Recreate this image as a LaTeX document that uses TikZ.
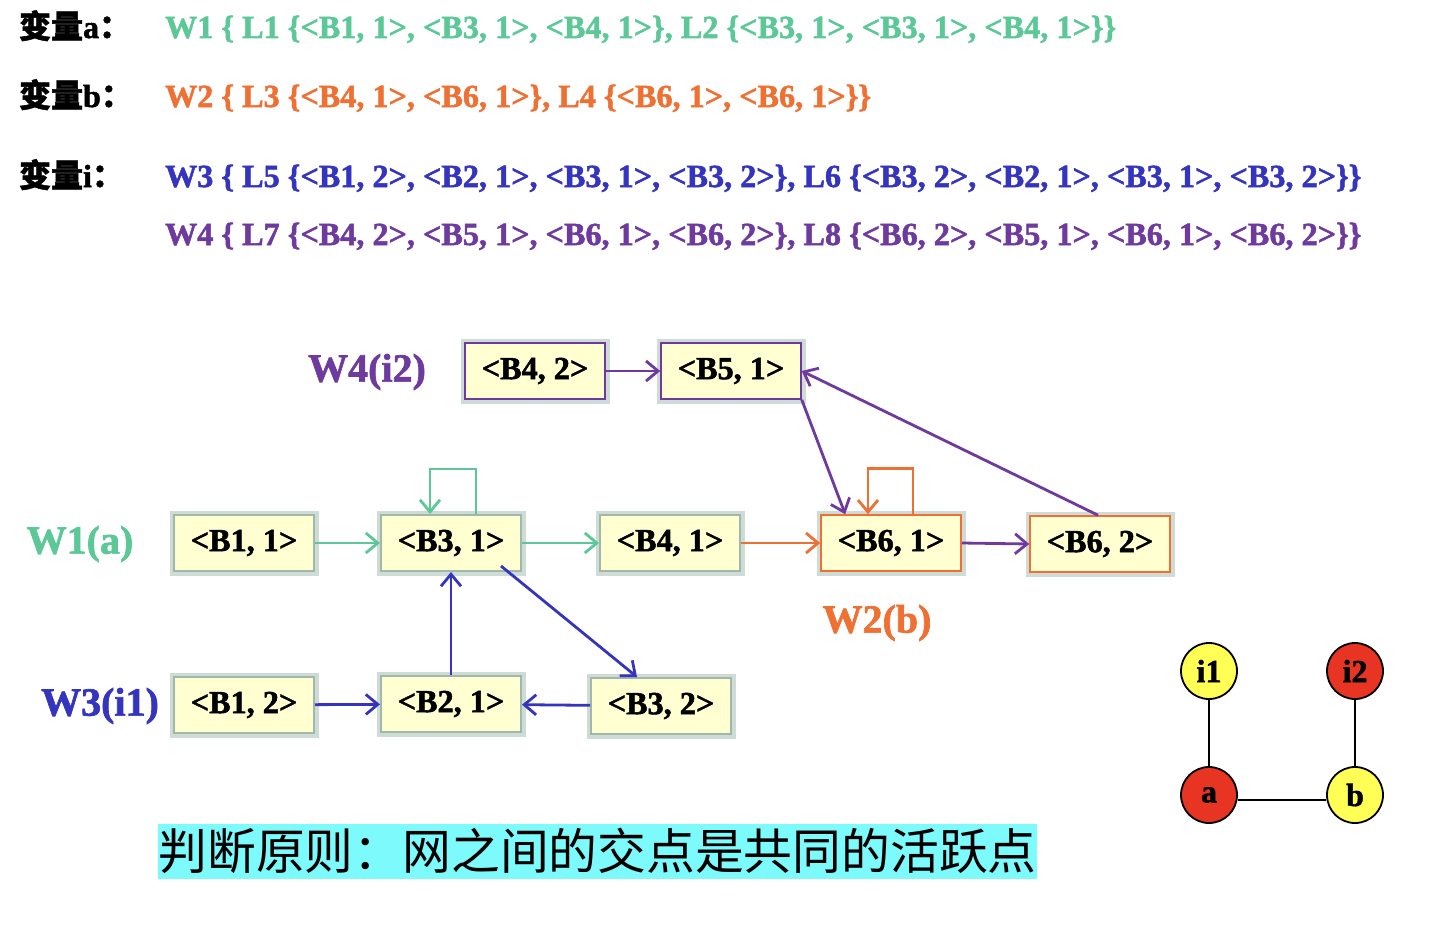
\documentclass[tikz,border=0pt]{standalone}
\usepackage{fontspec}
\setmainfont{Liberation Serif}[BoldFeatures={FakeBold=1.6}]
\newfontfamily\cjk{Noto Sans CJK SC}[BoldFeatures={FakeBold=1.5}]
\usetikzlibrary{arrows.meta}

\definecolor{wgreen}{RGB}{92,200,152}
\definecolor{worange}{RGB}{238,112,50}
\definecolor{wblue}{RGB}{52,52,190}
\definecolor{wpurple}{RGB}{110,58,158}
\definecolor{boxfill}{RGB}{255,255,210}
\definecolor{glow}{RGB}{160,184,172}
\definecolor{hilite}{RGB}{125,250,252}
\definecolor{vred}{RGB}{232,52,35}
\definecolor{vyellow}{RGB}{255,255,85}

\tikzset{
	>={Straight Barb[length=6pt,width=10pt]},
	blk/.style={draw=glow, line width=1pt, fill=boxfill, minimum width=70pt, minimum height=28pt,
		inner sep=0pt, font=\fontsize{16.1}{18}\selectfont\bfseries,
		preaction={draw=glow!50, line width=4.5pt}},
	wlabel/.style={font=\fontsize{20}{22}\selectfont\bfseries},
	varname/.style={anchor=base west, font=\fontsize{16}{18}\selectfont\bfseries},
	chain/.style={anchor=base west, font=\fontsize{16.1}{18}\selectfont\bfseries},
	vnode/.style={circle, draw=black, line width=0.9pt, minimum size=28pt, inner sep=0pt,
		font=\fontsize{16}{18}\selectfont\bfseries},
	link/.style={line width=1.4pt}
}

\begin{document}
\begin{tikzpicture}[x=0.5pt, y=-0.5pt]
	\useasboundingbox (0,0) rectangle (1430,926);

	\node[varname] (va) at (12,38) {{\cjk 变量}a{\cjk ：}};
	\node[varname] (vb) at (12,107) {{\cjk 变量}b{\cjk ：}};
	\node[varname] (vi) at (12,187) {{\cjk 变量}i{\cjk ：}};
	\node[chain, text=wgreen] (ta) at (158,38) {W1 \{ L1 \{<B1, 1>, <B3, 1>, <B4, 1>\}, L2 \{<B3, 1>, <B3, 1>, <B4, 1>\}\}};
	\node[chain, text=worange] (tb) at (158,107) {W2 \{ L3 \{<B4, 1>, <B6, 1>\}, L4 \{<B6, 1>, <B6, 1>\}\}};
	\node[chain, text=wblue] (ti) at (158,187) {W3 \{ L5 \{<B1, 2>, <B2, 1>, <B3, 1>, <B3, 2>\}, L6 \{<B3, 2>, <B2, 1>, <B3, 1>, <B3, 2>\}\}};
	\node[chain, text=wpurple] (tj) at (158,245) {W4 \{ L7 \{<B4, 2>, <B5, 1>, <B6, 1>, <B6, 2>\}, L8 \{<B6, 2>, <B5, 1>, <B6, 1>, <B6, 2>\}\}};

	\node[wlabel, text=wpurple] (w4) at (367,372) {W4(i2)};
	\node[wlabel, text=wgreen] (w1) at (80,544) {W1(a)};
	\node[wlabel, text=wblue] (w3) at (100,706) {W3(i1)};
	\node[wlabel, text=worange] (w2) at (877,623) {W2(b)};

	\node[blk, draw=wpurple, line width=0.8pt] (b42) at (535,371) {<B4, 2>};
	\node[blk, draw=wpurple, line width=0.8pt] (b51) at (731,371) {<B5, 1>};
	\node[blk] (b11) at (244,543) {<B1, 1>};
	\node[blk] (b31) at (451,543) {<B3, 1>};
	\node[blk] (b41) at (670,543) {<B4, 1>};
	\node[blk, draw=worange, line width=0.8pt] (b61) at (891,543) {<B6, 1>};
	\node[blk, draw=worange, line width=0.8pt] (b62) at (1100,544) {<B6, 2>};
	\node[blk] (b12) at (244,705) {<B1, 2>};
	\node[blk] (b21) at (451,704) {<B2, 1>};
	\node[blk] (b32) at (661,706) {<B3, 2>};

	\draw[link, wgreen, ->] (b11) -- (b31);
	\draw[link, wgreen, ->] (b31) -- (b41);
	\draw[link, wgreen, ->] ([xshift=12.5pt]b31.north) -- ++(0,-45) -| ([xshift=-10.5pt]b31.north);
	\draw[link, worange, ->] (b41) -- (b61);
	\draw[link, worange, ->] ([xshift=11pt]b61.north) -- ++(0,-46) -| ([xshift=-11.5pt]b61.north);
	\draw[link, wpurple, ->] (b42) -- (b51);
	\draw[link, wpurple, ->] (b51.south east) -- ([xshift=12.5pt]b61.north west);
	\draw[link, wpurple, ->] (b61.east) -- (b62.west);
	\draw[link, wpurple, ->] ([xshift=-1pt]b62.north) -- (b51.east);
	\draw[link, wblue, ->] (b12) -- (b21);
	\draw[link, wblue, ->] (b32) -- (b21);
	\draw[link, wblue, ->] (b21) -- (b31);
	\draw[link, wblue, ->] ([xshift=-10.5pt,yshift=3pt]b31.south east) -- ([xshift=-12pt]b32.north);

	\node[vnode, fill=vyellow] (i1) at (1209,671) {i1};
	\node[vnode, fill=vred] (i2) at (1355,671) {i2};
	\node[vnode, fill=vred] (a) at (1209,795) {a};
	\node[vnode, fill=vyellow] (b) at (1355,795) {b};
	\draw[line width=0.9pt] (i1) -- (a);
	\draw[line width=0.9pt] (i2) -- (b);
	\draw[line width=0.9pt] ([yshift=-2.5pt]a.east) -- ([yshift=-2.5pt]b.west);

	\node[fill=hilite, anchor=west, inner xsep=0pt, inner ysep=0pt, minimum height=27.5pt,
		font=\cjk\fontsize{24.4}{26}\selectfont] (rule) at (158,851) {判断原则：网之间的交点是共同的活跃点};
\end{tikzpicture}
\end{document}
